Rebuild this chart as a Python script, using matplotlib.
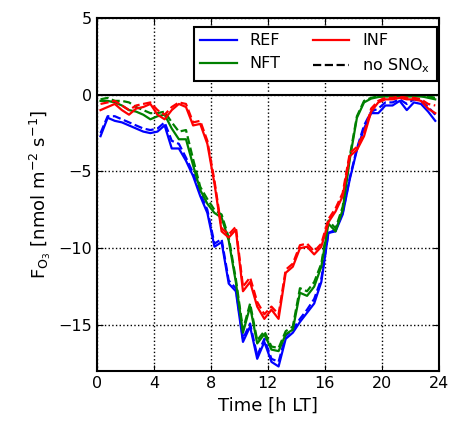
import numpy as np
import matplotlib
matplotlib.use('Agg')
import matplotlib.pyplot as plt
from matplotlib.lines import Line2D

plt.rcParams['mathtext.default'] = 'regular'
plt.rcParams['xtick.direction'] = 'in'
plt.rcParams['ytick.direction'] = 'in'

# half-hourly time axis
time = np.arange(0.25, 24.0, 0.5)

ref = [-2.7, -1.5, -1.7, -1.8, -2.0, -2.2, -2.4, -2.5, -2.4, -2.0,
       -3.5, -3.5, -4.3, -5.3, -6.6, -7.7, -9.9, -9.6, -12.3, -12.8,
       -16.1, -15.1, -17.2, -16.1, -17.4, -17.7, -15.9, -15.5, -14.8, -14.2,
       -13.6, -12.2, -9.0, -8.9, -7.8, -5.5, -3.6, -2.2, -1.2, -1.2,
       -0.7, -0.7, -0.4, -1.0, -0.5, -0.6, -1.1, -1.7]
ref_ns = [-2.5, -1.4, -1.4, -1.6, -1.8, -2.0, -2.2, -2.3, -2.2, -1.8,
          -3.0, -3.2, -4.1, -5.1, -6.4, -7.5, -9.7, -9.4, -12.1, -12.6,
          -15.9, -14.9, -17.0, -15.9, -17.2, -17.4, -15.7, -15.3, -14.6, -14.0,
          -13.3, -12.0, -9.0, -8.8, -7.7, -5.4, -3.5, -2.0, -1.1, -0.9,
          -0.5, -0.5, -0.3, -0.6, -0.3, -0.4, -0.8, -1.3]
nft = [-0.4, -0.4, -0.5, -0.7, -1.0, -1.1, -1.3, -1.6, -1.4, -1.3,
       -2.2, -2.9, -2.9, -4.6, -6.2, -7.1, -7.7, -8.0, -9.5, -12.2,
       -15.5, -13.8, -16.2, -15.6, -16.6, -16.7, -15.6, -15.3, -12.9, -13.1,
       -12.5, -11.2, -8.4, -8.9, -7.5, -4.2, -1.5, -0.5, -0.25, -0.15,
       -0.1, -0.1, -0.1, -0.1, -0.1, -0.1, -0.2, -0.3]
nft_ns = [-0.3, -0.2, -0.4, -0.4, -0.5, -0.8, -1.0, -1.2, -1.2, -1.1,
          -1.8, -2.4, -2.3, -4.2, -6.0, -6.8, -7.5, -7.8, -9.3, -12.0,
          -15.3, -13.6, -16.0, -15.4, -16.4, -16.5, -15.4, -15.1, -12.6, -12.8,
          -12.2, -11.0, -8.2, -8.7, -7.3, -4.0, -1.4, -0.4, -0.2, -0.1,
          -0.1, -0.1, -0.1, -0.1, -0.1, -0.1, -0.1, -0.2]
inf = [-1.0, -0.8, -0.6, -1.0, -1.3, -0.9, -0.8, -0.6, -1.3, -1.6,
       -1.0, -0.6, -0.8, -2.0, -1.9, -3.2, -5.8, -8.9, -9.3, -8.8,
       -12.8, -12.2, -13.8, -14.6, -14.0, -14.6, -11.6, -11.2, -10.0, -9.9,
       -10.4, -9.9, -8.3, -7.6, -6.6, -4.0, -3.6, -2.7, -1.1, -0.5,
       -0.3, -0.3, -0.2, -0.3, -0.3, -0.4, -0.9, -1.2]
inf_ns = [-0.6, -0.5, -0.4, -0.7, -1.0, -0.7, -0.6, -0.5, -1.0, -1.3,
          -0.8, -0.5, -0.6, -1.8, -1.7, -3.0, -5.6, -8.7, -9.1, -8.6,
          -12.5, -11.9, -13.5, -14.3, -13.8, -14.3, -11.4, -11.0, -9.8, -9.7,
          -10.2, -9.7, -8.1, -7.4, -6.4, -3.8, -3.4, -2.5, -0.9, -0.4,
          -0.2, -0.2, -0.1, -0.2, -0.2, -0.3, -0.6, -0.7]

fig = plt.figure(figsize=(4.51, 4.28), dpi=100)
ax = fig.add_axes([0.215, 0.133, 0.758, 0.825])

lw = 1.6
ax.plot(time, ref, color='blue', lw=lw)
ax.plot(time, ref_ns, color='blue', lw=lw, ls='--')
ax.plot(time, nft, color='green', lw=lw)
ax.plot(time, nft_ns, color='green', lw=lw, ls='--')
ax.plot(time, inf, color='red', lw=lw)
ax.plot(time, inf_ns, color='red', lw=lw, ls='--')
ax.axhline(0, color='black', lw=1.5)

ax.set_xlim(0, 24)
ax.set_ylim(-18, 5)
ax.set_xticks(np.arange(0, 25, 4))
ax.set_yticks([5, 0, -5, -10, -15])
ax.tick_params(top=True, right=True, labelsize=11.5, length=4)
ax.grid(True, color='black', ls=':', lw=1)
for s in ax.spines.values():
    s.set_linewidth(1.5)

ax.set_xlabel('Time [h LT]', fontsize=13)
ax.set_ylabel('$F_{O_3}$ [nmol m$^{-2}$ s$^{-1}$]', fontsize=13)

handles = [Line2D([], [], color='blue', lw=lw),
           Line2D([], [], color='green', lw=lw),
           Line2D([], [], color='red', lw=lw),
           Line2D([], [], color='black', lw=lw, ls='--')]
labels = ['REF', 'NFT', 'INF', 'no SNO$_x$']
leg = ax.legend(handles, labels, ncol=2, loc='upper right',
                bbox_to_anchor=(0.994, 0.975), borderaxespad=0,
                fontsize=11.5, fancybox=False, framealpha=1, edgecolor='black',
                columnspacing=2.0, handlelength=2.3, handletextpad=0.8)
leg.get_frame().set_linewidth(1.5)

fig.savefig('out.png', dpi=100)
